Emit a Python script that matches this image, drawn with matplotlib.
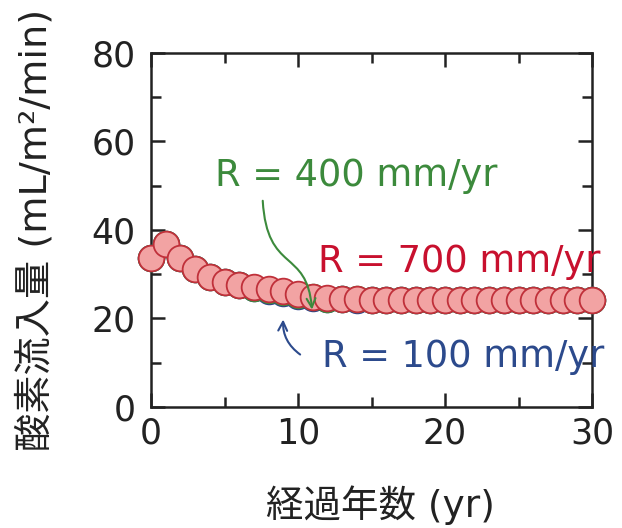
import matplotlib
matplotlib.use("Agg")
import matplotlib.pyplot as plt
from matplotlib.patches import FancyArrowPatch
from matplotlib.path import Path
from matplotlib.ticker import MultipleLocator

plt.rcParams['font.family'] = ['DejaVu Sans', 'Noto Sans CJK JP']

# elapsed years
years = list(range(0, 31))

# oxygen inflow (mL/m2/min) for each rainfall rate
flux_700 = [33.6, 36.8, 33.7, 31.2, 29.4, 28.2, 27.5, 27.0, 26.6, 26.1, 25.5, 24.9,
            24.6, 24.4, 24.3, 24.2, 24.2, 24.2, 24.2, 24.2, 24.2, 24.2, 24.2, 24.2,
            24.2, 24.2, 24.2, 24.2, 24.2, 24.2, 24.2]
flux_400 = [33.6, 36.8, 33.7, 31.2, 29.4, 28.2, 27.5, 26.9, 26.5, 26.0, 25.4, 24.8,
            24.5, 24.4, 24.3, 24.2, 24.2, 24.2, 24.2, 24.2, 24.2, 24.2, 24.2, 24.2,
            24.2, 24.2, 24.2, 24.2, 24.2, 24.2, 24.2]
flux_100 = [33.6, 36.8, 33.7, 31.2, 29.4, 28.2, 27.5, 26.8, 26.3, 25.7, 25.1, 24.6,
            24.4, 24.3, 24.2, 24.2, 24.2, 24.2, 24.2, 24.2, 24.2, 24.2, 24.2, 24.2,
            24.2, 24.2, 24.2, 24.2, 24.2, 24.2, 24.2]

fig = plt.figure(figsize=(6.22, 5.28), dpi=100)
ax = fig.add_axes([0.2428, 0.2292, 0.709, 0.6705])

ms = 18.5
ax.plot(years, flux_100, 'o', ms=ms, mfc='#a9b8e0', mec='#2c3f8c', mew=1.3, clip_on=False, zorder=3)
ax.plot(years, flux_400, 'o', ms=ms, mfc='#b4dbae', mec='#3c8a3c', mew=1.3, clip_on=False, zorder=4)
ax.plot(years, flux_700, 'o', ms=ms, mfc='#f2a3a3', mec='#c0303a', mew=1.3, clip_on=False, zorder=5)

ax.set_xlim(0, 30)
ax.set_ylim(0, 80)
ax.xaxis.set_major_locator(MultipleLocator(10))
ax.xaxis.set_minor_locator(MultipleLocator(5))
ax.yaxis.set_major_locator(MultipleLocator(20))
ax.yaxis.set_minor_locator(MultipleLocator(10))
ax.tick_params(which='both', direction='in', top=True, right=True, width=1.8, colors='#222222')
ax.tick_params(which='major', length=10, labelsize=25)
ax.tick_params(which='minor', length=7)
ax.tick_params(axis='x', pad=7)
ax.tick_params(axis='y', pad=11)
for s in ax.spines.values():
    s.set_linewidth(1.8)
    s.set_color('#222222')

ax.set_xlabel('経過年数 (yr)', fontsize=27, color='#222222')
ax.set_ylabel('酸素流入量 (mL/m²/min)', fontsize=27.5, color='#222222')
ax.xaxis.set_label_coords(0.52, -0.222)
ax.yaxis.set_label_coords(-0.218, 0.5)

# series labels
green, red, blue = '#3c8a3c', '#c8102e', '#2c4a8c'
ax.text(4.35, 52.4, 'R = 400 mm/yr', color=green, fontsize=26.5, ha='left', va='center', zorder=6)
ax.text(11.36, 32.8, 'R = 700 mm/yr', color=red, fontsize=26.5, ha='left', va='center', zorder=6,
        clip_on=False)
ax.text(11.63, 11.3, 'R = 100 mm/yr', color=blue, fontsize=26.5, ha='left', va='center', zorder=6,
        clip_on=False)

# curved pointer to the 400 mm/yr series
verts = [(7.6, 46.6), (7.9, 30.0), (10.6, 36.0), (10.95, flux_400[11] - 2.8)]
codes = [Path.MOVETO, Path.CURVE4, Path.CURVE4, Path.CURVE4]
arrow = FancyArrowPatch(path=Path(verts, codes), arrowstyle='->', mutation_scale=16,
                        color=green, lw=1.5, zorder=7)
ax.add_patch(arrow)

# pointer to the 100 mm/yr series
ax.annotate('', xy=(9.0, flux_100[9] - 5.3), xytext=(10.3, 11.5),
            arrowprops=dict(arrowstyle='->', color=blue, lw=1.5, mutation_scale=16,
                            connectionstyle='arc3,rad=-0.3'), zorder=7)

fig.savefig('out.png', dpi=100)
